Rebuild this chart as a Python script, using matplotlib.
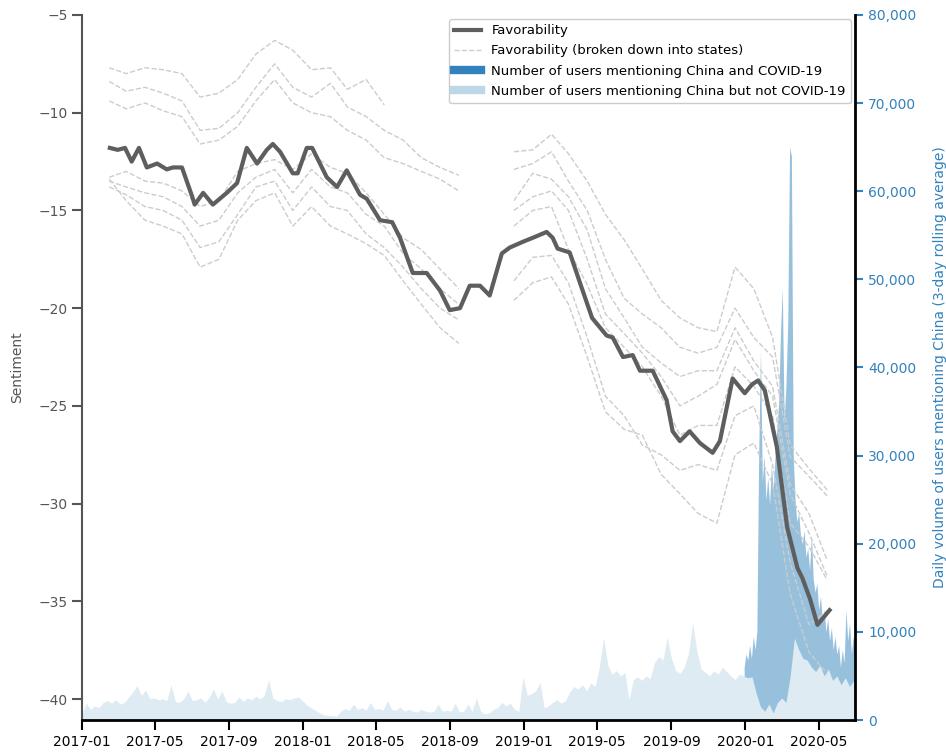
import numpy as np
import pandas as pd
import matplotlib
matplotlib.use("Agg")
import matplotlib.pyplot as plt
import matplotlib.dates as mdates
from matplotlib.lines import Line2D
from matplotlib.ticker import FuncFormatter, MultipleLocator

nan = np.nan

# overall favorability (sentiment)
fav_dates = ["2017-02-16", "2017-03-01", "2017-03-13", "2017-03-24", "2017-04-05", "2017-04-18",
             "2017-05-05", "2017-05-21", "2017-05-31", "2017-06-15", "2017-07-02", "2017-07-06",
             "2017-07-20", "2017-08-05", "2017-08-28", "2017-09-14", "2017-09-30", "2017-10-17",
             "2017-11-02", "2017-11-12", "2017-11-24", "2017-12-15", "2017-12-23", "2018-01-07",
             "2018-01-16", "2018-02-09", "2018-02-26", "2018-03-14", "2018-04-05", "2018-04-16",
             "2018-05-08", "2018-05-28", "2018-06-10", "2018-07-01", "2018-07-24", "2018-08-15",
             "2018-08-31", "2018-09-17", "2018-10-03", "2018-10-20", "2018-11-05", "2018-11-25",
             "2018-12-08", "2018-12-30", "2019-01-15", "2019-02-07", "2019-02-17", "2019-02-25",
             "2019-03-17", "2019-04-03", "2019-04-23", "2019-05-17", "2019-05-27", "2019-06-13",
             "2019-06-29", "2019-07-11", "2019-08-01", "2019-08-24", "2019-09-03", "2019-09-15",
             "2019-10-01", "2019-10-18", "2019-11-08", "2019-11-20", "2019-12-11", "2019-12-31",
             "2020-01-12", "2020-01-22", "2020-02-02", "2020-02-22", "2020-03-10", "2020-03-27",
             "2020-04-04", "2020-04-17", "2020-04-29", "2020-05-19"]
fav_vals = [-11.8, -11.9, -11.8, -12.5, -11.8, -12.8,
            -12.6, -12.9, -12.8, -12.8, -14.3, -14.7,
            -14.1, -14.7, -14.1, -13.6, -11.8, -12.6,
            -11.9, -11.6, -12.0, -13.1, -13.1, -11.8,
            -11.8, -13.3, -13.8, -12.95, -14.2, -14.4,
            -15.5, -15.6, -16.4, -18.2, -18.2, -19.1,
            -20.1, -20.0, -18.85, -18.85, -19.35, -17.2,
            -16.9, -16.6, -16.4, -16.1, -16.4, -16.95,
            -17.15, -18.7, -20.5, -21.4, -21.5, -22.5,
            -22.4, -23.2, -23.2, -24.7, -26.3, -26.8,
            -26.3, -26.9, -27.4, -26.8, -23.6, -24.35,
            -23.9, -23.7, -24.2, -27.1, -31.2, -33.3,
            -33.8, -34.9, -36.2, -35.45]

# favorability per state, monthly (mid-month) from 2017-02 to 2020-05
state_dates = pd.date_range("2017-02-01", periods=40, freq="MS") + pd.Timedelta(days=14)
state_1 = [-7.7, -8.0, -7.7, -7.8, -8.0, -9.2, -9.0, -8.3, -7.0, -6.3, -6.8, -7.8, -7.7, -8.8, -8.3, -9.6,
           nan, nan, nan, nan, nan, nan,
           -12.0, -11.9, -11.1, -12.1, -13.5, -15.2, -16.5, -18.0, -19.6, -20.5, -21.0, -21.2, -17.9,
           -19.0, -21.5, -27.0, -28.2, -29.3]
state_2 = [-8.4, -8.9, -8.7, -9.0, -9.4, -10.9, -10.8, -10.0, -8.7, -7.5, -8.7, -9.2, -8.5, -9.7, -10.2,
           -10.9, -11.4, -12.3, -12.8, -13.2, nan, nan,
           -12.9, -12.6, -12.0, -13.5, -15.0, -17.5, -19.5, -20.3, -21.0, -22.0, -22.3, -22.0, -20.0,
           -21.5, -22.5, -27.6, -28.6, -29.6]
state_3 = [-9.4, -9.8, -9.5, -9.9, -10.2, -11.6, -11.4, -10.7, -9.4, -8.3, -9.5, -10.0, -10.2, -10.9, -11.4,
           -12.3, -12.6, -13.0, -13.4, -14.0, nan, nan,
           -14.5, -13.1, -13.4, -14.3, -16.0, -19.0, -20.5, -22.0, -22.8, -23.5, -23.2, -23.2, -21.0,
           -22.7, -24.0, -29.0, -30.5, -32.9]
state_4 = [-13.3, -13.0, -13.5, -13.6, -14.0, -14.8, -14.5, -13.0, -12.6, -12.4, -12.9, -12.1, -12.8, -13.1,
           -14.1, -15.2, -16.4, -17.0, -18.0, -19.0, nan, nan,
           -15.0, -14.3, -14.0, -15.0, -17.5, -20.3, -21.3, -22.3, -23.5, -25.0, -24.5, -23.9, -21.6,
           -23.2, -24.5, -29.5, -31.5, -33.7]
state_5 = [-13.5, -13.8, -14.1, -14.3, -14.8, -15.8, -15.5, -14.1, -13.3, -12.9, -14.1, -12.9, -13.8, -14.1,
           -15.2, -15.8, -17.2, -18.0, -19.0, -19.8, nan, nan,
           -15.8, -15.0, -14.8, -17.0, -18.8, -21.0, -22.0, -23.0, -24.5, -26.5, -26.0, -26.0, -23.0,
           -24.0, -25.5, -31.0, -32.2, -33.9]
state_6 = [-13.8, -14.2, -14.8, -15.0, -15.5, -16.9, -16.6, -15.2, -13.8, -13.5, -15.0, -13.8, -14.8, -15.0,
           -16.2, -16.9, -17.9, -19.0, -20.0, -20.6, nan, nan,
           -18.6, -17.4, -17.3, -18.7, -21.5, -24.5, -25.5, -27.0, -27.5, -28.3, -28.0, -28.3, -25.5,
           -25.0, -28.0, -33.0, -36.2, -35.5]
state_7 = [-13.4, -14.5, -15.5, -15.8, -16.2, -17.9, -17.5, -15.5, -14.5, -14.1, -15.8, -14.8, -15.8, -16.2,
           -16.7, -17.3, -18.6, -19.8, -21.0, -21.8, nan, nan,
           -19.6, -18.7, -18.4, -19.8, -22.5, -25.3, -26.2, -26.5, -28.5, -29.5, -30.5, -31.0, -27.5,
           -26.9, -29.0, -34.6, -37.6, -38.7]
states = [state_1, state_2, state_3, state_4, state_5, state_6, state_7]

# users mentioning China but not COVID-19 (thousands), weekly
vol_dates = pd.date_range("2017-01-01", periods=183, freq="7D")
vol_no_covid = [0.8, 1.9, 1.2, 1.6, 1.4, 2.0, 2.2, 1.9, 2.3, 1.8, 2.0, 2.6, 3.2,
                3.9, 2.8, 3.4, 2.4, 2.5, 2.3, 2.4, 2.2, 4.0, 2.1, 2.0, 2.4, 3.3,
                2.2, 2.3, 2.5, 2.0, 2.6, 3.5, 2.4, 3.3, 2.1, 1.9, 2.0, 2.6, 2.1,
                2.5, 2.3, 2.7, 2.4, 2.8, 4.6, 2.5, 2.2, 2.1, 2.4, 2.3, 2.5, 2.6,
                2.2, 1.7, 1.4, 1.1, 0.8, 0.6, 0.5, 0.5, 0.4, 1.0, 1.3, 1.1, 1.8,
                1.2, 1.4, 1.1, 2.0, 1.2, 1.3, 1.1, 2.2, 1.2, 1.1, 1.5, 1.0, 1.2,
                1.0, 0.9, 1.2, 1.0, 0.9, 1.0, 1.8, 1.0, 1.1, 1.0, 1.9, 0.9, 1.0,
                1.8, 1.0, 2.5, 1.0, 0.7, 0.8, 1.2, 1.4, 2.0, 1.6, 1.9, 1.2, 1.0,
                4.9, 2.8, 3.0, 3.3, 4.3, 1.4, 1.6, 2.0, 2.3, 1.9, 2.2, 3.2, 3.8,
                3.5, 4.0, 3.3, 4.2, 3.8, 6.0, 9.3, 6.2, 5.2, 5.6, 5.0, 5.4, 2.3,
                4.6, 4.9, 4.5, 5.0, 4.7, 6.5, 7.2, 6.8, 9.4, 7.0, 5.6, 5.3, 6.0,
                7.5, 11.0, 7.8, 5.8, 5.4, 5.0, 5.6, 5.2, 6.0, 5.5, 5.0, 4.6, 5.2,
                5.0, 4.8, 4.9, 3.0, 1.5, 1.0, 1.8, 0.8, 2.0, 2.5, 2.0,
                5.0, 9.3, 8.0, 7.0, 6.8, 6.0, 5.5, 6.2, 5.0, 5.8, 4.5, 5.0, 4.0, 4.8, 3.8, 4.5]

# stacked top incl. users mentioning China and COVID-19 (thousands), every 3 days
covid_dates = pd.date_range("2019-12-30", periods=62, freq="3D")
covid_stack = [6.0, 7.5, 6.8, 8.5, 7.0, 9.5, 8.0, 10.0, 30.0, 42.0,
               27.0, 30.0, 25.0, 27.5, 24.5, 29.0, 26.0, 30.0, 33.0, 36.0,
               44.0, 49.0, 34.0, 38.0, 45.0, 65.0, 64.0, 30.0, 25.0, 22.5,
               23.5, 21.0, 20.0, 21.5, 18.5, 19.5, 17.0, 21.0, 16.0, 14.5,
               15.5, 12.5, 14.0, 11.5, 12.5, 10.0, 11.5, 9.0, 10.5, 8.0,
               9.5, 7.5, 8.5, 6.0, 8.0, 6.5, 12.5, 9.0, 11.0, 7.5, 9.5, 8.0]

blue = "#3182bd"
light_blue = "#bdd7e7"
grey_txt = "#555555"

fig = plt.figure(figsize=(9.46, 7.54), dpi=100)
ax = fig.add_axes([82 / 946, 34 / 754, (855 - 82) / 946, (720 - 15) / 754])
ax2 = ax.twinx()

# volume areas on the right axis
ax2.fill_between(covid_dates, 0, np.array(covid_stack) * 1000, color=blue, alpha=0.5, lw=0, zorder=1)
ax2.fill_between(vol_dates, 0, np.array(vol_no_covid) * 1000, color="#deebf3", lw=0, zorder=2)
ax2.set_ylim(0, 80000)
ax2.yaxis.set_major_locator(MultipleLocator(10000))
ax2.yaxis.set_major_formatter(FuncFormatter(lambda v, p: f"{int(v):,}"))
ax2.tick_params(axis="y", colors=blue, labelsize=10, length=6, width=1.5)
ax2.set_ylabel("Daily volume of users mentioning China (3-day rolling average)", color=blue,
               fontsize=10, labelpad=12)
for s in ["left", "top", "bottom"]:
    ax2.spines[s].set_visible(False)
ax2.spines["right"].set_color("black")
ax2.spines["right"].set_linewidth(2)

# sentiment lines on the left axis, drawn above the areas
ax.set_zorder(ax2.get_zorder() + 1)
ax.patch.set_visible(False)
for s in states:
    ax.plot(state_dates, s, color="#cccccc", ls="--", lw=1)
ax.plot(pd.to_datetime(fav_dates), fav_vals, color="#5e5e5e", lw=3)

ax.set_ylim(-41.07, -5)
ax.yaxis.set_major_locator(MultipleLocator(5))
ax.set_ylabel("Sentiment", color=grey_txt, fontsize=10, labelpad=10)
ax.tick_params(axis="y", colors=grey_txt, labelsize=10, length=7, width=1.5)
ax.tick_params(axis="x", colors="black", labelsize=10, length=7, width=1.5)
ax.set_xlim(pd.Timestamp("2017-01-01"), pd.Timestamp("2020-06-30"))
ax.xaxis.set_major_locator(mdates.MonthLocator(bymonth=[1, 5, 9]))
ax.xaxis.set_major_formatter(mdates.DateFormatter("%Y-%m"))
ax.spines["top"].set_visible(False)
ax.spines["right"].set_visible(False)
ax.spines["left"].set_color(grey_txt)
ax.spines["left"].set_linewidth(1.5)
ax.spines["bottom"].set_color("black")
ax.spines["bottom"].set_linewidth(2)

handles = [
    Line2D([], [], color="#5e5e5e", lw=3),
    Line2D([], [], color="#cccccc", lw=1, ls="--"),
    Line2D([], [], color=blue, lw=6),
    Line2D([], [], color=light_blue, lw=6),
]
labels = ["Favorability", "Favorability (broken down into states)",
          "Number of users mentioning China and COVID-19",
          "Number of users mentioning China but not COVID-19"]
ax.legend(handles, labels, loc="upper right", bbox_to_anchor=(1.0, 1.0), borderaxespad=0.3,
          fontsize=9.5, labelspacing=0.55, framealpha=1)

fig.savefig("out.png", dpi=100)
